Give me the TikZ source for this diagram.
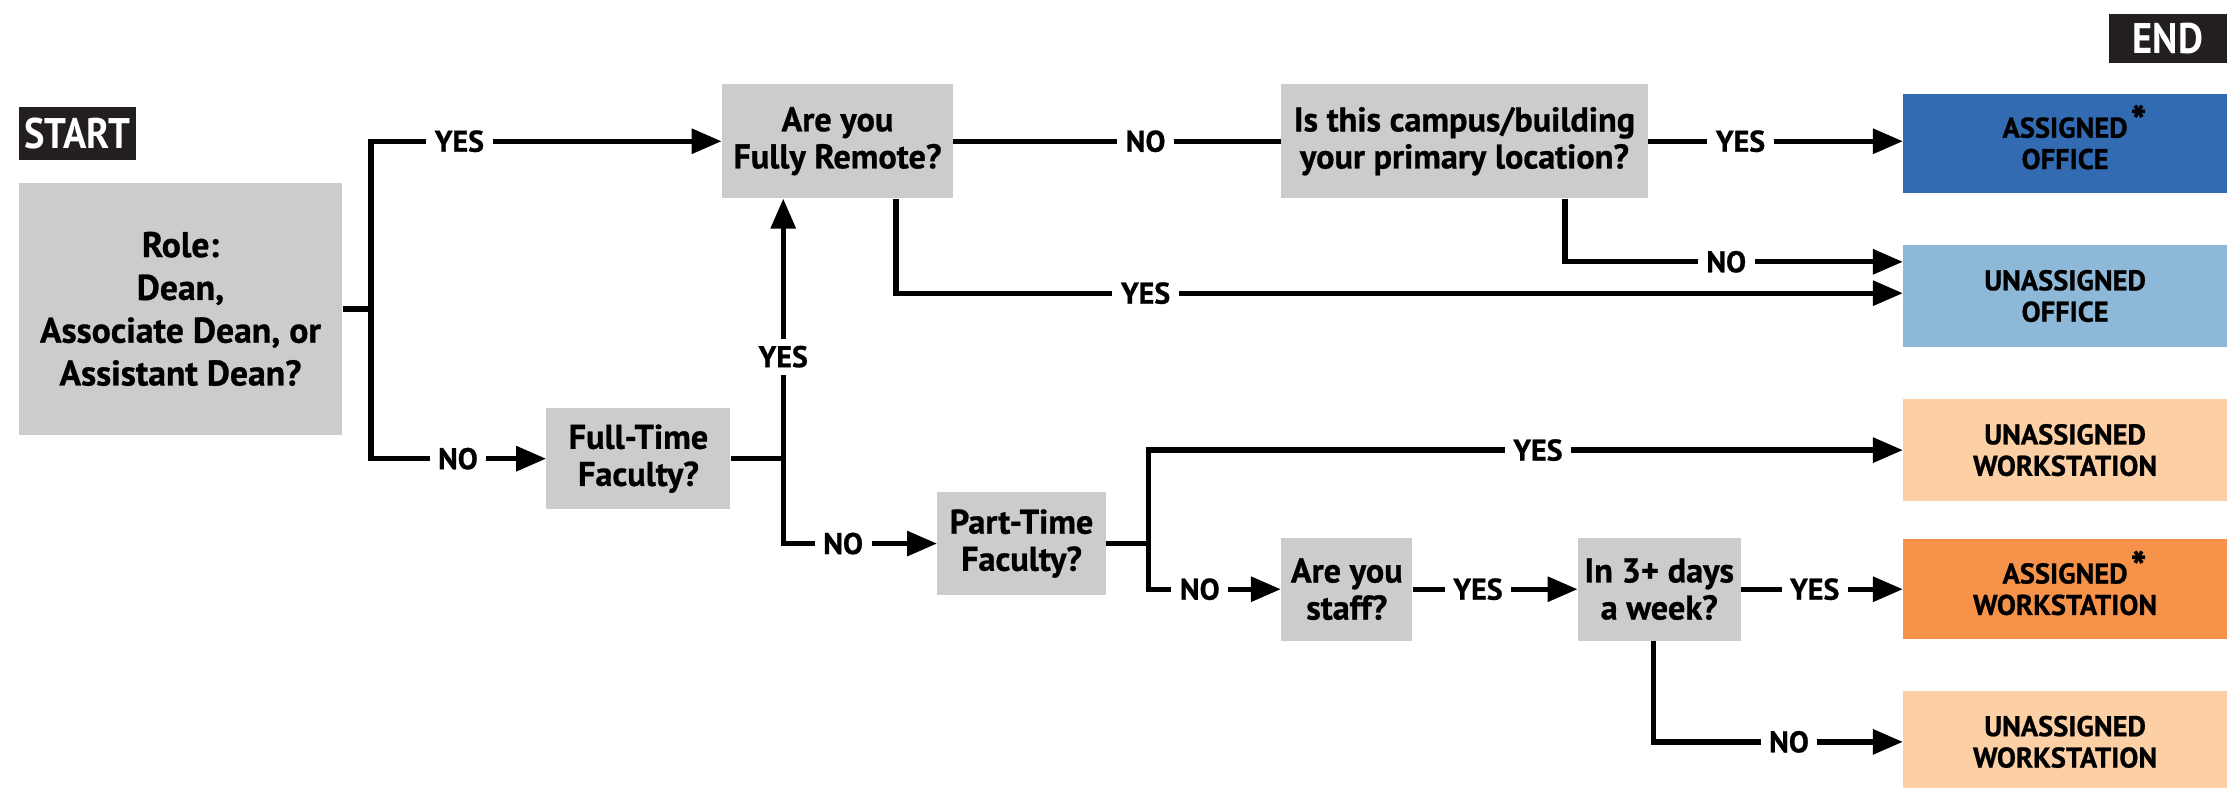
\documentclass[tikz,border=0pt]{standalone}
\usepackage{fontspec}
\setmainfont{PT Sans}[BoldFeatures={FakeBold=0.8}]
\newfontfamily\cf{PT Sans}[FakeStretch=0.9]
\usetikzlibrary{arrows.meta}
\definecolor{boxgray}{HTML}{CCCCCC}
\definecolor{tagdark}{HTML}{231F20}
\definecolor{offblue}{HTML}{336BB3}
\definecolor{offlight}{HTML}{8DB8D8}
\definecolor{wspeach}{HTML}{FCD0A4}
\definecolor{wsorange}{HTML}{F6924A}
\newcommand{\astr}{\rlap{\kern2pt\smash{\raisebox{1pt}{\fontsize{30}{30}\selectfont *}}}}
\begin{document}
\begin{tikzpicture}[x=1pt,y=-1pt,
  q/.style={fill=boxgray, inner sep=0pt, align=center, font=\bfseries\fontsize{24}{26}\selectfont},
  res/.style={inner sep=0pt, align=center, minimum width=227pt, font=\bfseries\fontsize{20}{22}\selectfont},
  lbl/.style={fill=white, inner xsep=6pt, inner ysep=1pt, font=\bfseries\fontsize{21}{21}\selectfont},
  ln/.style={line width=3.7pt},
  arr/.style={ln, -{Triangle[length=21pt,width=17pt]}},
  tag/.style={fill=tagdark, text=white, inner sep=0pt, font=\cf\bfseries\fontsize{30}{30}\selectfont}]
\useasboundingbox (0,0) rectangle (1568,552);
% tags
\node[tag, minimum width=82pt, minimum height=37pt] (start) at (54,93.5) {START};
\node[tag, minimum width=83pt, minimum height=34pt] (end) at (1519.5,27) {END};
% question boxes
\node[q, minimum width=227pt, minimum height=177pt, font=\bfseries\fontsize{25}{30}\selectfont] (role) at (126.5,216.5) {Role:\\Dean,\\Associate Dean, or\\Assistant Dean?};
\node[q, minimum width=162pt, minimum height=80pt] (remote) at (587,99) {Are you\\Fully Remote?};
\node[q, minimum width=257pt, minimum height=80pt] (campus) at (1026.5,99) {Is this campus/building\\your primary location?};
\node[q, minimum width=129pt, minimum height=71pt] (ft) at (447.5,321.5) {Full-Time\\Faculty?};
\node[q, minimum width=118pt, minimum height=72pt] (pt) at (716,381) {Part-Time\\Faculty?};
\node[q, minimum width=92pt, minimum height=72pt] (staff) at (944,413) {Are you\\staff?};
\node[q, minimum width=114pt, minimum height=72pt] (days) at (1163,413) {In 3+ days\\a week?};
% results
\node[res, fill=offblue, minimum height=69pt] (aoff) at (1447.5,100.5) {ASSIGNED\astr\\OFFICE};
\node[res, fill=offlight, minimum height=71pt] (uoff) at (1447.5,207.5) {UNASSIGNED\\OFFICE};
\node[res, fill=wspeach, minimum height=71pt] (uws1) at (1447.5,315.5) {UNASSIGNED\\WORKSTATION};
\node[res, fill=wsorange, minimum height=70pt] (aws) at (1447.5,413) {ASSIGNED\astr\\WORKSTATION};
\node[res, fill=wspeach, minimum height=72pt] (uws2) at (1447.5,520) {UNASSIGNED\\WORKSTATION};
% connectors
\coordinate (jr) at (260,216.5);
\draw[ln] (role.east) -- (jr);
\draw[arr] (jr) |- (remote.west);
\draw[arr] (jr) |- (ft.west);
\draw[ln] (remote.east) -- (campus.west);
\draw[arr] (campus.east) -- (aoff.west |- campus.east);
\draw[arr] ([xshift=70.5pt]campus.south) |- ([yshift=24pt]uoff.west);
\draw[arr] ([xshift=41pt]remote.south) |- ([yshift=2pt]uoff.west);
\coordinate (jf) at (549,321.5);
\draw[ln] (ft.east) -- (jf);
\draw[arr] (jf) -- (jf |- remote.south);
\draw[arr] (jf) |- (pt.west);
\coordinate (jp) at (805,381);
\draw[ln] (pt.east) -- (jp);
\draw[arr] (jp) |- (uws1.west);
\draw[arr] (jp) |- (staff.west);
\draw[arr] (staff.east) -- (days.west);
\draw[arr] (days.east) -- (aws.west);
\draw[arr] ([xshift=-4pt]days.south) |- (uws2.west);
% labels
\node[lbl] (l1) at (322,99) {YES};
\node[lbl] (l2) at (321,321.5) {NO};
\node[lbl] (l3) at (803,99) {NO};
\node[lbl] (l4) at (1220,99) {YES};
\node[lbl] (l5) at (1210,183.5) {NO};
\node[lbl] (l6) at (803,205.5) {YES};
\node[lbl, inner xsep=2pt, inner ysep=5pt] (l7) at (549,250) {YES};
\node[lbl] (l8) at (591,381) {NO};
\node[lbl] (l9) at (1078,315.5) {YES};
\node[lbl] (l10) at (841,413) {NO};
\node[lbl] (l11) at (1036,413) {YES};
\node[lbl] (l12) at (1272,413) {YES};
\node[lbl] (l13) at (1254,520) {NO};
\end{tikzpicture}
\end{document}
